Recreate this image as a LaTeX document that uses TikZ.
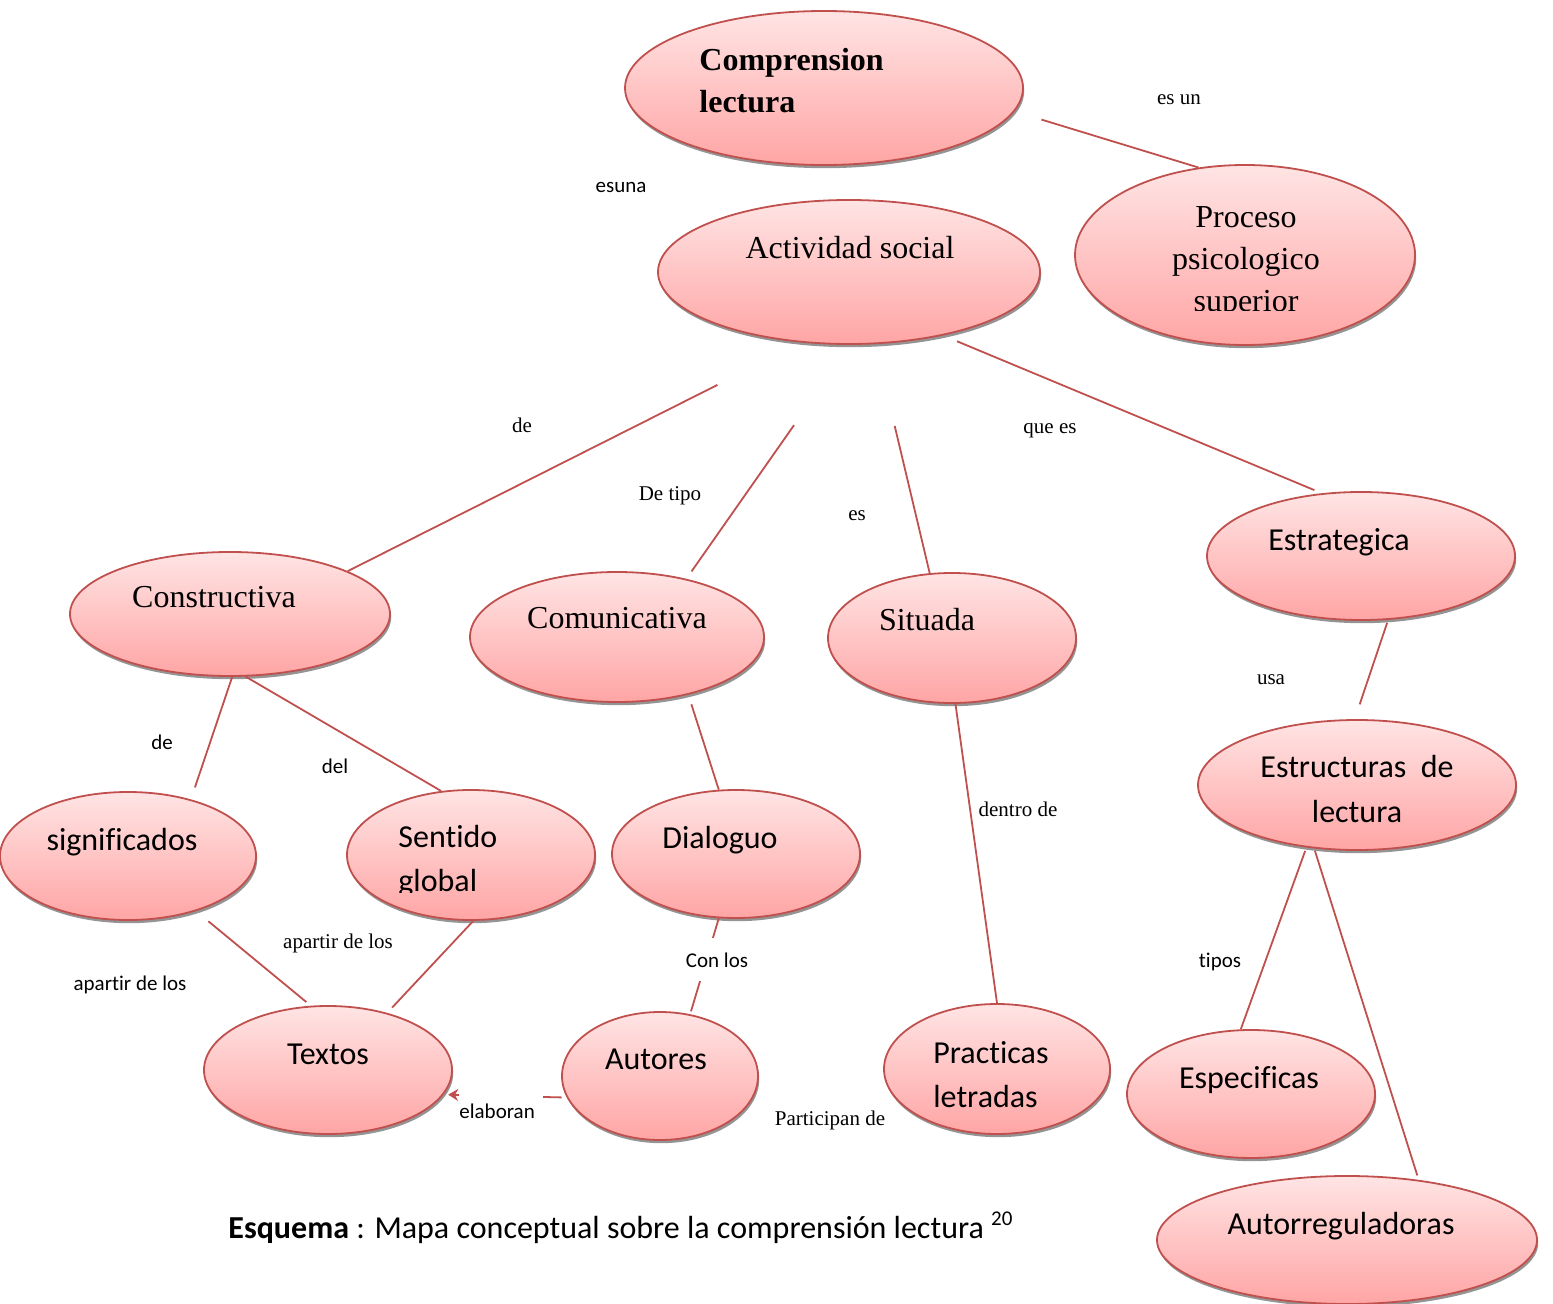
\documentclass[tikz,border=0pt]{standalone}
\usepackage{fontspec}
\setmainfont{Liberation Serif}
\setsansfont{Carlito}[Ligatures=NoCommon]
\usepackage{tikz}
\usetikzlibrary{arrows.meta,shapes.geometric,shadows}

\definecolor{conceptred}{RGB}{192,80,77}
\definecolor{pinktop}{RGB}{255,228,228}
\definecolor{pinkbot}{RGB}{255,165,165}

\begin{document}
\begin{tikzpicture}[x=0.5pt, y=-0.5pt, >=Stealth,
  concept/.style={ellipse, draw=conceptred, line width=0.9pt, top color=pinktop, bottom color=pinkbot, inner sep=0pt,
    drop shadow={shadow xshift=0.6pt, shadow yshift=-1.6pt, fill=black!42, opacity=1}},
  link/.style={draw=conceptred, line width=0.9pt},
  rmtext/.style={font=\fontsize{16}{21}\selectfont\rmfamily, inner sep=0pt},
  sftext/.style={font=\fontsize{16}{22}\selectfont\sffamily, inner sep=0pt},
  rmlbl/.style={font=\fontsize{10.5}{12}\selectfont\rmfamily, inner sep=0pt, anchor=base},
  sflbl/.style={font=\fontsize{10.5}{12}\selectfont\sffamily, inner sep=0pt, anchor=base}]
\useasboundingbox (0,0) rectangle (1553,1304);

% Concepts
\node[concept, minimum width=199pt, minimum height=77pt] (comp) at (824,88) {};
\node[concept, minimum width=191pt, minimum height=72pt] (act) at (849,272) {};
\node[concept, minimum width=170pt, minimum height=90pt] (proc) at (1245,255) {};
\node[concept, minimum width=160pt, minimum height=62pt] (cons) at (230,614) {};
\node[concept, minimum width=147pt, minimum height=65pt] (comu) at (617,637) {};
\node[concept, minimum width=124pt, minimum height=65pt] (sit) at (952,638) {};
\node[concept, minimum width=154pt, minimum height=64pt] (estra) at (1361,556) {};
\node[concept, minimum width=159pt, minimum height=65pt] (estru) at (1357,785) {};
\node[concept, minimum width=128pt, minimum height=64pt] (sig) at (128,856) {};
\node[concept, minimum width=124pt, minimum height=65pt] (sent) at (471,855) {};
\node[concept, minimum width=124pt, minimum height=64pt] (dial) at (736,854) {};
\node[concept, minimum width=124pt, minimum height=64pt] (textos) at (328,1070) {};
\node[concept, minimum width=98pt, minimum height=64pt] (aut) at (660,1076) {};
\node[concept, minimum width=113pt, minimum height=65pt] (prac) at (997,1069) {};
\node[concept, minimum width=124pt, minimum height=64pt] (espe) at (1251,1094) {};
\node[concept, minimum width=190pt, minimum height=64pt] (autr) at (1347,1240) {};

% Concept texts (multi-line: base is the last line)
\node[rmtext, font=\fontsize{16}{21}\selectfont\bfseries, anchor=base west, align=left] (compT) at (699,113) {Comprension\\lectura};
\node[rmtext, anchor=base] (actT) at (850,259) {Actividad social};
\begin{scope}
  \clip (1070,160) rectangle (1420,311);
  \node[rmtext, anchor=base, align=center] (procT) at (1246,312) {Proceso\\psicologico\\superior};
\end{scope}
\node[rmtext, anchor=base] (consT) at (214,608) {Constructiva};
\node[rmtext, anchor=base] (comuT) at (617,629) {Comunicativa};
\node[rmtext, anchor=base] (sitT) at (927,631) {Situada};
\node[sftext, anchor=base] (estraT) at (1339,551) {Estrategica};
\node[sftext, font=\fontsize{16}{22.5}\selectfont\sffamily, anchor=base, align=center] (estruT) at (1357,822) {Estructuras~ de\\lectura};
\node[sftext, anchor=base] (sigT) at (122,850) {significados};
\begin{scope}
  \clip (340,785) rectangle (600,892);
  \node[sftext, anchor=base west, align=left] (sentT) at (398,891) {Sentido\\global};
\end{scope}
\node[sftext, anchor=base] (dialT) at (720,848) {Dialoguo};
\node[sftext, anchor=base] (textosT) at (328,1064) {Textos};
\node[sftext, anchor=base] (autT) at (656,1069) {Autores};
\node[sftext, anchor=base west, align=left] (pracT) at (933,1107) {Practicas\\letradas};
\node[sftext, anchor=base] (espeT) at (1249,1088) {Especificas};
\node[sftext, anchor=base] (autrT) at (1341,1234) {Autorreguladoras};

% Connectors
\draw[link, shorten <=14pt] (comp.-7.3) -- (proc.118);
\draw[link, shorten <=47pt] (act.236) -- (cons.20);
\draw[link, shorten <=49pt, shorten >=4.5pt] (act.-89) -- (comu.40);
\draw[link, shorten <=42pt] (act.-70.7) -- (sit.109);
\draw[link, shorten <=7.5pt, shorten >=4pt] (act.-34.4) -- (estra.122.6);
\draw[link, shorten >=6.3pt] (cons.-88) -- (sig.42);
\draw[link] (cons.-76) -- (sent.115);
\draw[link, shorten <=5pt] (comu.-39.3) -- (dial.105);
\draw[link] (sit.-87) -- (prac.90);
\draw[link, shorten <=1.5pt, shorten >=7.8pt] (estra.-67.7) -- (estru.92.6);
\draw[link, shorten <=1.8pt] (estru.-129.5) -- (espe.99);
\draw[link, shorten <=1.2pt, shorten >=2.3pt] (estru.-124.3) -- (autr.40.7);
\draw[link, shorten <=8pt, shorten >=2.9pt] (sig.-39.9) -- (textos.105.5);
\draw[link, shorten >=3.6pt] (sent.-88) -- (textos.44.7);
\draw[link, shorten >=1.5pt] (dial.-105.7) -- (aut.64.5);
\draw[link, -{Stealth[length=5pt, width=6pt]}, shorten <=2.5pt, shorten >=2.3pt] (aut.-167.9) -- (textos.-12.9);

% Link labels
\node[rmlbl] (lEsun) at (1179,105) {es un};
\node[sflbl] (lEsuna) at (621,193) {esuna};
\node[rmlbl] (lDe) at (522,433) {de};
\node[rmlbl] (lDetipo) at (670,501) {De tipo};
\node[rmlbl] (lEs) at (857,521) {es};
\node[rmlbl] (lQuees) at (1050,434) {que es};
\node[rmlbl] (lUsa) at (1271,684) {usa};
\node[sflbl] (lDeSig) at (162,749) {de};
\node[sflbl] (lDel) at (335,773) {del};
\node[rmlbl] (lDentro) at (1018,816) {dentro de};
\node[rmlbl] (lApartirA) at (338,948) {apartir de los};
\node[sflbl] (lApartirB) at (130,990) {apartir de los};
\node[sflbl, fill=white, inner xsep=3pt, inner ysep=7pt] (lConlos) at (717,967) {Con los};
\node[sflbl] (lTipos) at (1220,967) {tipos};
\node[sflbl, anchor=base west, fill=white, text height=14pt, text width=42pt] (lElaboran) at (459,1118) {elaboran};
\node[rmlbl] (lParticipan) at (830,1125) {Participan de};

% Caption
\node[font=\fontsize{16}{19}\selectfont\sffamily, inner sep=0pt, anchor=base west] (caption) at (228,1238)
  {\textbf{Esquema} : Mapa conceptual sobre la comprensión lectura \raisebox{6.5pt}{\fontsize{10.5}{12}\selectfont 20}};
\end{tikzpicture}
\end{document}
